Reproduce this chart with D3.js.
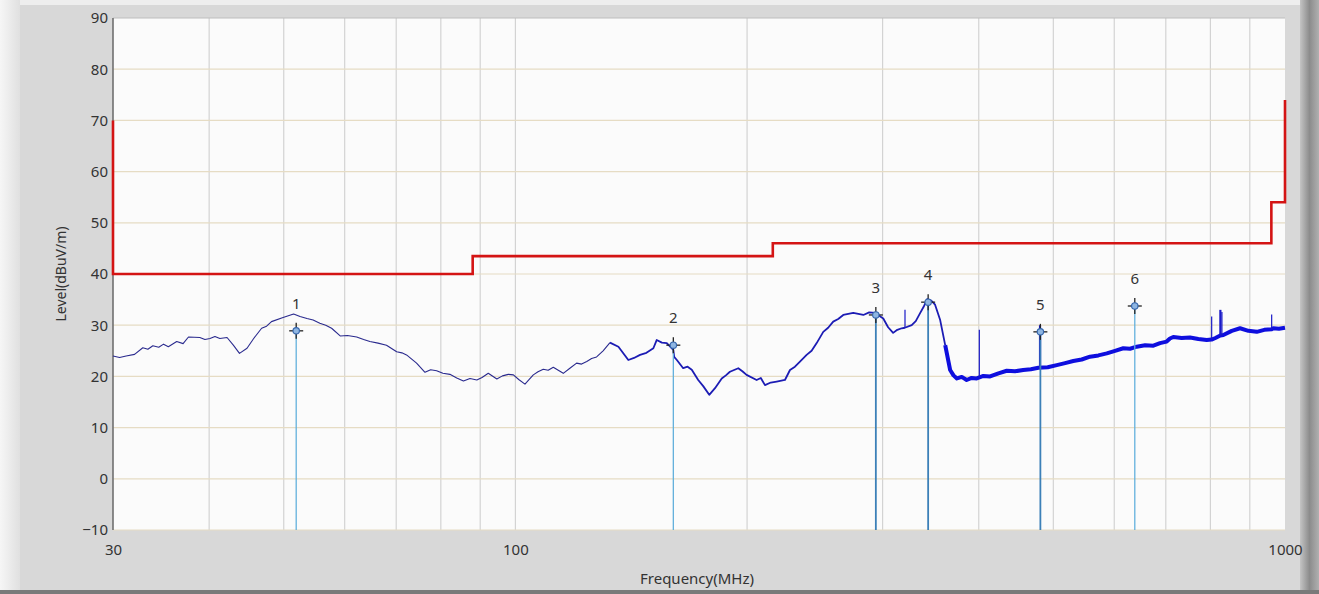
<!DOCTYPE html>
<html>
<head>
<meta charset="utf-8">
<script src="https://cdn.jsdelivr.net/npm/d3@7"></script>
<style>
  body { margin: 0; background: #d9d9d9; }
  text { font-family: "Noto Sans", "Open Sans", sans-serif; fill: #333; }
</style>
</head>
<body>
<script>
// ---- data ----
const yTicks = [-10, 0, 10, 20, 30, 40, 50, 60, 70, 80, 90];
const xTickLabels = [30, 100, 1000];
const xGrid = [40, 50, 60, 70, 80, 90, 100, 200, 300, 400, 500, 600, 700, 800, 900];

// limit line (red)
const limitFreq  = [30, 30, 88, 88, 216, 216, 960, 960, 1000, 1000];
const limitLevel = [70, 40, 40, 43.5, 43.5, 46, 46, 54, 54, 74];

// measured trace (blue)
const traceFreq = [
  30.0, 30.6, 31.2, 32.0, 32.8, 33.3, 33.8, 34.4, 34.9, 35.4, 36.3, 37.0, 37.6, 38.9, 39.5, 40.1,
  40.7, 41.3, 42.2, 43.0, 43.8, 44.8, 45.7, 46.8, 47.5, 48.2, 49.9, 51.5, 52.5, 53.6, 54.6, 55.7,
  56.7, 57.7, 59.2, 60.5, 62.2, 63.5, 64.7, 66.3, 68.0, 70.1, 71.2, 72.2, 74.4, 76.3, 77.6, 79.0,
  80.5, 82.2, 83.9, 85.6, 87.3, 89.1, 90.5, 92.2, 94.6, 96.2, 97.9, 99.4, 101.0, 102.9, 105.5,
  107.0, 108.7, 110.3, 112.0, 115.4, 117.7, 120.1, 121.9, 123.8, 125.6, 127.5, 130.0, 132.7, 136.1,
  140.2, 142.6, 145.2, 148.0, 151.1, 152.6, 155.0, 157.3, 160.4, 160.8, 162.1, 165.2, 167.4, 169.5,
  172.8, 175.4, 178.6, 181.7, 185.4, 187.7, 190.0, 194.8, 197.2, 199.7, 205.8, 208.4, 211.0, 214.7,
  218.5, 224.0, 227.4, 230.8, 234.3, 239.0, 242.6, 246.3, 251.2, 254.9, 258.8, 262.7, 266.7, 274.8,
  283.2, 288.2, 293.3, 300.6, 305.0, 309.6, 313.5, 317.6, 320.6, 327.3, 331.3, 335.5, 339.2, 342.8,
  347.0, 351.0, 356.4, 361.8, 367.2, 370.9, 374.7, 380.2, 385.8, 391.6, 397.6, 405.6, 413.8, 424.3,
  435.0, 445.9, 456.9, 467.5, 478.2, 491.6, 505.2, 517.9, 530.8, 544.3, 558.0, 572.2, 586.7, 601.4,
  616.4, 629.0, 641.7, 658.0, 674.5, 688.0, 701.8, 708.8, 715.9, 734.0, 752.5, 771.7, 791.2, 802.8,
  812.0, 824.0, 831.6, 852.8, 874.2, 896.3, 918.9, 940.0, 960.7, 965.6, 982.0, 1000
];
const traceLevel = [
  24.0, 23.7, 24.0, 24.3, 25.6, 25.3, 26.0, 25.7, 26.3, 25.8, 26.8, 26.4, 27.7, 27.6, 27.2, 27.4,
  27.8, 27.4, 27.6, 26.1, 24.5, 25.5, 27.4, 29.4, 29.8, 30.7, 31.5, 32.2, 31.7, 31.3, 31.0, 30.4,
  30.0, 29.4, 27.9, 28.0, 27.7, 27.2, 26.8, 26.5, 26.1, 24.8, 24.6, 24.2, 22.6, 20.8, 21.3, 21.1,
  20.6, 20.4, 19.7, 19.1, 19.6, 19.3, 19.8, 20.6, 19.5, 20.1, 20.4, 20.3, 19.4, 18.5, 20.3,
  20.9, 21.4, 21.2, 21.8, 20.6, 21.6, 22.6, 22.4, 22.9, 23.5, 23.8, 25.0, 26.6, 25.8,
  23.2, 23.6, 24.2, 24.6, 25.5, 27.1, 26.6, 26.5, 25.2, 23.8, 23.2, 21.6, 21.9, 21.3,
  19.3, 18.1, 16.4, 17.7, 19.6, 20.2, 20.9, 21.6, 21.0, 20.3, 19.3, 19.7, 18.3, 18.8,
  19.0, 19.3, 21.25, 21.9, 22.9, 24.2, 25.0, 26.5, 28.7, 29.5, 30.7, 31.2, 32.0, 32.4,
  32.0, 32.5, 32.4, 31.3, 29.6, 28.5, 29.1, 29.4, 29.5, 30.0, 30.8, 32.3, 33.6, 35.1,
  34.8, 34.0, 31.0, 26.1, 21.25, 20.2, 19.6, 19.9, 19.3, 19.7, 19.6, 20.1, 20.0, 20.6,
  21.1, 21.0, 21.25, 21.4, 21.7, 21.8, 22.2, 22.6, 23.0, 23.3, 23.85, 24.1, 24.5, 25.0,
  25.5, 25.4, 25.8, 26.1, 26.0, 26.5, 26.8, 27.4, 27.7, 27.5, 27.6, 27.3, 27.1, 27.2,
  27.5, 28.0, 28.1, 28.9, 29.4, 28.9, 28.7, 29.1, 29.2, 29.4, 29.3, 29.5
];

// narrow spikes on top of the trace
const spikeFreq = [320.8, 400.7, 480.5, 803.0, 824.2, 828.0, 960.9];
const spikeBase = [29.5, 19.8, 21.7, 27.2, 28.0, 28.0, 29.2];
const spikeTop  = [33.0, 29.1, 30.0, 31.7, 33.0, 32.6, 32.1];

// peak markers
const markerNames = ["1", "2", "3", "4", "5", "6"];
const markerFreq  = [51.9, 160.4, 294, 343.8, 481, 638];
const markerLevel = [28.9, 26.1, 32.0, 34.5, 28.7, 33.75];

// ---- layout ----
const W = 1319, H = 594;
const plotL = 113, plotR = 1285, plotT = 18, plotB = 530;

const svg = d3.select('body')
  .append('svg')
  .attr('width', W)
  .attr('height', H);

const defs = svg.append('defs');
const gl = defs.append('linearGradient').attr('id', 'gl');
gl.append('stop').attr('offset', 0).attr('stop-color', '#f6f6f6');
gl.append('stop').attr('offset', 1).attr('stop-color', '#e0e0e0');
const gr = defs.append('linearGradient').attr('id', 'gr');
gr.append('stop').attr('offset', 0).attr('stop-color', '#c4c4c4');
gr.append('stop').attr('offset', 0.5).attr('stop-color', '#8c8c8c');
gr.append('stop').attr('offset', 1).attr('stop-color', '#b0b0b0');

// panel frame
svg.append('rect').attr('width', W).attr('height', H).attr('fill', '#d8d8d8');
svg.append('rect').attr('width', W).attr('height', 5).attr('fill', '#eeeeee');
svg.append('rect').attr('width', 20).attr('height', H).attr('fill', 'url(#gl)');
svg.append('rect').attr('x', 1300).attr('width', 19).attr('height', H).attr('fill', 'url(#gr)');
svg.append('rect').attr('y', 590).attr('width', W).attr('height', 4).attr('fill', '#7a7a7a');

const x = d3.scaleLog().domain([30, 1000]).range([plotL, plotR]);
const y = d3.scaleLinear().domain([-10, 90]).range([plotB, plotT]);

// plot area
svg.append('rect')
  .attr('x', plotL).attr('y', plotT)
  .attr('width', plotR - plotL).attr('height', plotB - plotT)
  .attr('fill', '#fbfbfb');

svg.append('g').selectAll('line')
  .data(xGrid).enter().append('line')
  .attr('x1', d => x(d)).attr('x2', d => x(d))
  .attr('y1', plotT).attr('y2', plotB)
  .attr('stroke', '#d3d3d3').attr('stroke-width', 1.2);

svg.append('g').selectAll('line')
  .data(yTicks).enter().append('line')
  .attr('x1', plotL).attr('x2', plotR)
  .attr('y1', d => y(d)).attr('y2', d => y(d))
  .attr('stroke', d => d == 90 ? '#bdbdbd' : '#e6dcc4').attr('stroke-width', 1.2);

// left axis line
svg.append('line')
  .attr('x1', plotL).attr('x2', plotL).attr('y1', plotT).attr('y2', plotB)
  .attr('stroke', '#707070').attr('stroke-width', 1.6);

// axes labels
const gy = svg.append('g')
  .attr('transform', `translate(${plotL},0)`)
  .call(d3.axisLeft(y).tickValues(yTicks).tickSize(0).tickPadding(5));
gy.select('.domain').remove();
gy.selectAll('text').style('font-size', '15px').attr('fill', '#333')
  .style('font-family', '"Noto Sans", sans-serif');

const gx = svg.append('g')
  .attr('transform', `translate(0,${plotB})`)
  .call(d3.axisBottom(x).tickValues(xTickLabels).tickFormat(d3.format('d')).tickSize(0).tickPadding(14));
gx.select('.domain').remove();
gx.selectAll('text').style('font-size', '15px').attr('fill', '#333')
  .style('font-family', '"Noto Sans", sans-serif');

svg.append('text')
  .attr('x', 697).attr('y', 584)
  .attr('text-anchor', 'middle')
  .style('font-size', '15px')
  .text('Frequency(MHz)');

svg.append('text')
  .attr('transform', 'translate(66,274) rotate(-90)')
  .attr('text-anchor', 'middle')
  .style('font-size', '14px')
  .text('Level(dBuV/m)');

// limit line
const line = d3.line().x(d => x(d[0])).y(d => y(d[1]));
svg.append('path')
  .attr('d', line(d3.zip(limitFreq, limitLevel)))
  .attr('fill', 'none')
  .attr('stroke', '#d41414')
  .attr('stroke-width', 2.6);

// trace, drawn in three parts of growing thickness
const trace = d3.zip(traceFreq, traceLevel);
const parts = [
  { from: 30, to: 133, color: '#2a2a8e', width: 1.1 },
  { from: 132.7, to: 362, color: '#1c1cb4', width: 1.8 },
  { from: 361.8, to: 1000, color: '#0e0ede', width: 4 }
];
parts.forEach(p => {
  svg.append('path')
    .attr('d', line(trace.filter(d => d[0] >= p.from && d[0] <= p.to)))
    .attr('fill', 'none')
    .attr('stroke', p.color)
    .attr('stroke-width', p.width)
    .attr('stroke-linejoin', 'round');
});

svg.append('g').selectAll('line')
  .data(d3.zip(spikeFreq, spikeBase, spikeTop)).enter().append('line')
  .attr('x1', d => x(d[0])).attr('x2', d => x(d[0]))
  .attr('y1', d => y(d[1])).attr('y2', d => y(d[2]))
  .attr('stroke', '#1a1ac8')
  .attr('stroke-width', (d, i) => i == 2 || i == 4 ? 2.2 : 1.2);

// markers
const markers = markerNames.map((n, i) => ({ name: n, f: markerFreq[i], v: markerLevel[i] }));
const mk = svg.append('g').selectAll('g')
  .data(markers).enter().append('g')
  .attr('transform', d => `translate(${x(d.f)},${y(d.v)})`);

mk.append('line')
  .attr('x1', 0).attr('x2', 0).attr('y1', 0).attr('y2', d => plotB - y(d.v))
  .attr('stroke', (d, i) => (i >= 2 && i <= 4) ? '#3c80b8' : '#62b0dc')
  .attr('stroke-width', (d, i) => (i >= 2 && i <= 4) ? 1.8 : 1.3);
mk.append('line')
  .attr('x1', -7).attr('x2', 7).attr('y1', 0).attr('y2', 0)
  .attr('stroke', '#222').attr('stroke-width', 1.3);
mk.append('line')
  .attr('x1', 0).attr('x2', 0).attr('y1', -8).attr('y2', 8)
  .attr('stroke', '#222').attr('stroke-width', 1.3);
mk.append('circle')
  .attr('r', 3.2)
  .attr('fill', '#8fb6e2')
  .attr('stroke', '#3566ad').attr('stroke-width', 1.1);
mk.append('text')
  .attr('y', -22)
  .attr('text-anchor', 'middle')
  .style('font-size', '15px')
  .text(d => d.name);
</script>
</body>
</html>
